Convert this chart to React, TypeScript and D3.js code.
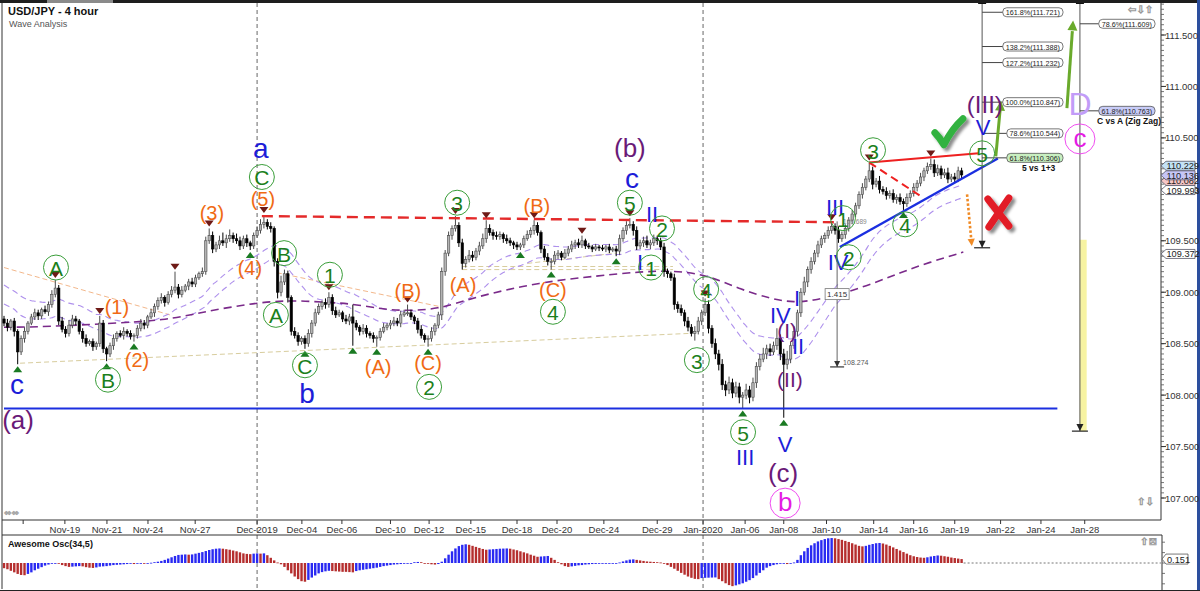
import React from "react";
import * as d3 from "d3";

// ---------------- DATA ----------------
const firstOpen = 108.74;
const closes = [
  108.70, 108.66, 108.72, 108.62, 108.42, 108.55, 108.62, 108.70, 108.76, 108.80,
  108.77, 108.83, 108.81, 108.88, 108.98, 109.04, 108.72, 108.64, 108.60, 108.68,
  108.74, 108.72, 108.62, 108.55, 108.50, 108.52, 108.47, 108.50, 108.70, 108.45,
  108.40, 108.48, 108.55, 108.60, 108.58, 108.62, 108.60, 108.57, 108.58, 108.65,
  108.70, 108.68, 108.76, 108.80, 108.86, 108.92, 108.95, 108.90, 108.98, 109.02,
  109.05, 108.98, 109.02, 109.06, 109.10, 109.08, 109.14, 109.18, 109.20, 109.50,
  109.55, 109.42, 109.46, 109.50, 109.48, 109.52, 109.55, 109.52, 109.50, 109.45,
  109.52, 109.48, 109.45, 109.55, 109.60, 109.66, 109.68, 109.64, 109.62, 109.30,
  109.00, 109.10, 109.18, 108.95, 108.62, 108.58, 108.52, 108.55, 108.50, 108.60,
  108.70, 108.80, 108.86, 108.90, 108.88, 108.95, 108.82, 108.78, 108.80, 108.74,
  108.72, 108.76, 108.70, 108.66, 108.62, 108.65, 108.60, 108.58, 108.55, 108.56,
  108.62, 108.66, 108.68, 108.70, 108.72, 108.70, 108.78, 108.80, 108.80, 108.76,
  108.72, 108.64, 108.58, 108.54, 108.55, 108.62, 108.68, 108.78, 109.20, 109.38,
  109.55, 109.62, 109.65, 109.48, 109.28, 109.32, 109.36, 109.34, 109.40, 109.45,
  109.52, 109.62, 109.58, 109.55, 109.54, 109.56, 109.52, 109.50, 109.48, 109.46,
  109.44, 109.46, 109.52, 109.56, 109.60, 109.65, 109.58, 109.42, 109.34, 109.30,
  109.30, 109.36, 109.38, 109.34, 109.38, 109.42, 109.46, 109.48, 109.46, 109.50,
  109.45, 109.44, 109.42, 109.44, 109.43, 109.42, 109.44, 109.41, 109.42, 109.40,
  109.52, 109.60, 109.65, 109.66, 109.60, 109.45, 109.48, 109.50, 109.46, 109.48,
  109.52, 109.50, 109.44, 109.20, 109.18, 109.14, 108.88, 108.84, 108.80, 108.72,
  108.66, 108.60, 108.62, 108.72, 108.80, 108.88, 108.65, 108.50, 108.40, 108.30,
  108.10, 108.05, 108.12, 108.02, 108.08, 107.98, 108.00, 108.05, 107.98, 108.12,
  108.28, 108.35, 108.40, 108.45, 108.42, 108.48, 108.55, 108.40, 108.30, 108.35,
  108.48, 108.62, 108.80, 109.00, 109.10, 109.22, 109.30, 109.38, 109.46, 109.52,
  109.55, 109.60, 109.64, 109.60, 109.52, 109.56, 109.62, 109.70, 109.76, 109.84,
  109.95, 110.02, 110.10, 110.18, 110.05, 110.08, 110.00, 109.98, 109.94, 109.96,
  109.90, 109.92, 109.88, 109.86, 109.92, 109.96, 110.02, 110.06, 110.12, 110.18,
  110.22, 110.24, 110.16, 110.20, 110.14, 110.16, 110.10, 110.12, 110.10, 110.18, 110.14,
];
// upper / lower wick lengths, in hundredths of a yen
const wickUp = [
  3,4,2,3,2,3,4,2,3,4, 3,2,4,3,4,8,3,4,3,5, 4,3,2,3,4,2,3,2,7,3, 2,3,4,2,3,4,2,3,2,3,
  4,3,2,4,3,3,4,2,3,4, 15,3,4,2,3,4,3,2,4,4, 7,4,3,5,8,4,6,3,5,4, 3,4,2,3,4,5,7,3,4,2,
  3,6,4,3,2,4,3,2,3,4, 3,4,3,2,4,5,3,4,3,2, 4,3,12,3,2,4,3,2,3,2, 3,4,2,3,4,3,4,3,8,3,
  2,3,4,2,3,4,2,3,4,3, 4,3,9,3,4,3,5,4,3,4, 5,8,4,3,4,3,2,4,3,2, 3,2,3,4,3,5,3,2,3,4,
  3,4,3,2,4,3,4,3,4,5, 2,3,2,3,2,3,2,3,2,3, 4,3,4,6,3,4,3,4,5,3, 4,3,3,4,3,2,4,3,4,3,
  4,3,5,4,3,6,4,3,5,4, 5,4,6,4,5,4,3,6,4,5, 4,5,6,4,5,4,10,4,5,8, 4,5,3,4,5,3,4,3,4,3,
  3,4,4,3,4,3,4,3,4,3, 3,4,3,8,4,3,5,3,4,3, 4,3,4,3,4,3,4,3,4,3, 4,6,5,4,3,4,5,3,4,4,3,
];
const wickDn = [
  3,4,3,5,12,3,4,3,2,3, 4,3,2,4,3,3,4,3,4,3, 3,4,3,4,3,2,4,3,3,4, 7,3,4,3,2,4,3,3,5,3,
  3,4,3,2,4,3,3,4,2,3, 3,4,3,2,4,3,3,2,3,3, 3,4,3,4,3,5,3,4,3,4, 3,4,4,3,2,3,4,3,4,5,
  6,4,3,5,4,3,4,3,5,3, 4,3,2,3,4,3,4,3,2,3, 3,4,22,3,4,3,4,3,4,8, 3,2,3,4,3,3,4,2,3,3,
  3,4,3,3,7,3,4,3,5,4, 3,4,3,4,6,4,3,4,3,4, 3,4,3,4,3,3,4,3,3,4, 3,3,3,2,3,4,3,4,3,4,
  8,3,4,3,2,3,3,4,3,3, 3,2,3,2,3,2,3,3,2,5, 4,3,4,3,5,4,3,4,3,4, 3,4,3,5,4,3,5,4,3,5,
  4,3,7,3,4,3,5,4,5,6, 5,6,4,5,4,6,11,4,6,4, 5,4,3,5,4,3,4,6,52,5, 4,3,5,4,3,5,4,3,4,3,
  4,3,3,4,4,3,4,3,4,3, 3,4,3,3,5,3,4,3,4,3, 3,4,3,6,3,4,3,4,3,4, 3,3,4,3,4,3,4,3,4,3,3,
];
const aoValues = [
  -0.20,-0.24,-0.30,-0.36,-0.42,-0.46,-0.47,-0.42,-0.36,-0.28,
  -0.22,-0.16,-0.10,-0.06,-0.03,-0.01,-0.02,-0.08,-0.12,-0.15,
  -0.14,-0.13,-0.12,-0.13,-0.16,-0.18,-0.19,-0.17,-0.14,-0.13,
  -0.12,-0.10,-0.08,-0.07,-0.06,-0.05,-0.04,-0.03,-0.04,-0.03,
  -0.02,-0.02,-0.01,0.01,0.03,0.05,0.08,0.12,0.17,0.22,
  0.27,0.31,0.32,0.33,0.32,0.33,0.36,0.39,0.42,0.46,
  0.50,0.53,0.55,0.56,0.55,0.53,0.51,0.48,0.45,0.41,
  0.37,0.35,0.34,0.36,0.37,0.36,0.37,0.30,0.20,0.10,
  0.02,-0.05,-0.15,-0.28,-0.40,-0.52,-0.62,-0.70,-0.72,-0.65,
  -0.56,-0.48,-0.40,-0.35,-0.32,-0.30,-0.31,-0.32,-0.33,-0.34,
  -0.34,-0.35,-0.36,-0.31,-0.28,-0.26,-0.24,-0.22,-0.20,-0.18,
  -0.15,-0.12,-0.10,-0.08,-0.06,-0.05,-0.04,-0.03,-0.02,0.00,
  0.03,0.04,0.03,0.00,-0.03,-0.05,-0.06,-0.04,0.05,0.18,
  0.32,0.45,0.56,0.65,0.70,0.72,0.70,0.66,0.62,0.58,
  0.54,0.51,0.52,0.53,0.54,0.55,0.555,0.56,0.55,0.52,
  0.49,0.45,0.41,0.37,0.32,0.28,0.24,0.25,0.26,0.27,
  0.20,0.12,0.03,-0.05,-0.12,-0.15,-0.13,-0.11,-0.09,-0.08,
  -0.06,-0.05,-0.04,-0.035,-0.03,-0.028,-0.025,-0.02,-0.015,-0.01,
  0.02,0.06,0.10,0.13,0.14,0.12,0.10,0.08,0.06,0.05,
  0.04,0.03,0.02,-0.02,-0.08,-0.15,-0.22,-0.30,-0.38,-0.45,
  -0.52,-0.57,-0.61,-0.62,-0.58,-0.57,-0.565,-0.56,-0.555,-0.62,
  -0.70,-0.78,-0.85,-0.89,-0.86,-0.82,-0.78,-0.72,-0.66,-0.58,
  -0.48,-0.38,-0.28,-0.18,-0.12,-0.08,-0.05,-0.03,-0.02,-0.04,
  -0.03,0.02,0.12,0.30,0.45,0.58,0.68,0.76,0.83,0.88,
  0.92,0.95,0.96,0.95,0.92,0.89,0.85,0.81,0.76,0.71,
  0.66,0.64,0.66,0.70,0.73,0.76,0.77,0.75,0.71,0.66,
  0.60,0.54,0.48,0.42,0.36,0.30,0.26,0.23,0.21,0.20,
  0.22,0.25,0.27,0.29,0.28,0.26,0.24,0.21,0.19,0.17,0.151,
];
const dateLabels = ["", "Nov-19", "Nov-21", "Nov-24", "Nov-27", "Dec-2019", "Dec-04", "Dec-06", "Dec-10", "Dec-12", "Dec-15", "Dec-18", "Dec-20", "Dec-24", "Dec-29", "Jan-2020", "Jan-06", "Jan-08", "Jan-10", "Jan-14", "Jan-16", "Jan-19", "Jan-22", "Jan-24", "Jan-28"];
const dateBars = [5.6, 17.8, 30.1, 42.1, 55.9, 74, 87.1, 98.8, 113, 124.3, 136.5, 150, 161.7, 175.4, 191, 204.4, 216.7, 228, 240.5, 254.3, 266, 278, 291.4, 303.2, 316];
const separatorLabels = ["Dec-2019", "Jan-2020"];
const priceTicks = [107.0, 107.5, 108.0, 108.5, 109.0, 109.5, 110.0, 110.5, 111.0, 111.5];
const bandSeeds = [109.09, 108.90];
const bandPeriod = 30;
// slow purple moving average, read at bar / price points
const slowMA = [[0,108.66],[8.5,108.66],[28,108.69],[48,108.73],[57,108.80],[67,108.86],[77,108.91],[86,108.92],[95,108.90],[101,108.89],[110,108.84],[116,108.82],[127,108.83],[137,108.95],[157,109.10],[174,109.16],[186,109.20],[196,109.21],[205.5,109.17],[215,109.03],[225,108.93],[231,108.90],[236.5,108.92],[243.5,108.97],[253,109.07],[262,109.19],[270.5,109.29],[280.5,109.39]];
const peachLines = [[0,109.24,48.5,108.78],[79.8,109.19,127.5,108.86]];
const beigeLines = [[4.7,108.31,200.6,108.60],[134,109.25,195.6,109.25],[134,109.22,195.6,109.22],[153,109.28,179,109.38]];
const supportLine = [0, 308, 107.87];
const resistanceLine = [75.4, 109.74, 243.9, 109.68];
const redSolid = [253, 110.26, 285, 110.35];
const redDashed = [253, 110.26, 268.7, 109.92];
const blueTrend = [244.4, 109.44, 290.6, 110.30];
const greenArrows = [[290, 110.32, 291.5, 110.86], [310.8, 110.79, 312.6, 111.64]];
const orangeArrow = [281.6, 109.95, 283, 109.45];
const measureLine = { bar: 243.6, from: 109.689, to: 108.274 };
const fibA = { bar: 286, base: 109.432, pct: ["61.8%", "78.6%", "100.0%", "127.2%", "138.2%", "161.8%"], price: [110.306, 110.544, 110.847, 111.232, 111.388, 111.721], title: "5 vs 1+3" };
const fibB = { bar: 314.6, base: 107.65, pct: ["61.8%", "78.6%"], price: [110.763, 111.609], title: "C vs A (Zig Zag)" };
const yellowBand = [315.4, 107.65, 109.51];
const topMarks = [15, 28, 50, 60, 76, 95, 118, 132, 141, 155, 169, 183, 205, 242, 253, 271];
const bottomMarks = [4, 30, 38, 72, 88, 102, 109, 124, 151, 160, 179, 216, 228, 263];
const axisTags = [
  { v: 110.229, fill: "#c4e2f6" },
  { v: 110.082, fill: "#f6c6c6" },
  { v: 110.136, fill: "#c6c6f6" },
  { v: 109.993, fill: "#ffffff" },
  { v: 109.372, fill: "#ffffff" },
];
// wave labels: [text, bar, price]
const greenCircles = [["A",15.2,109.24],["B",30.4,108.15],["C",75.4,110.12],["B",81.9,109.38],["A",79.5,108.78],["C",88,108.29],["1",95.3,109.17],["2",124.3,108.08],["3",132.5,109.87],["4",160.5,108.81],["5",183,109.87],["2",192.4,109.62],["1",189.2,109.24],["4",205.3,109.03],["3",202.6,108.34],["5",216.1,107.64],["1",245.3,109.72],["2",247,109.34],["3",254.1,110.38],["4",263.5,109.66],["5",286,110.35]];
const orangeLabels = [["(1)",33,108.86],["(2)",38.9,108.34],["(3)",60.8,109.77],["(4)",71.9,109.24],["(5)",75.7,109.91],["(A)",109.4,108.27],["(B)",118.1,109.01],["(C)",124,108.31],["(A)",134.2,109.07],["(B)",155.8,109.84],["(C)",160.5,109.02]];
const blueLetters = [["c",3.8,108.10],["a",75.1,110.40],["b",88.6,108.02],["c",183.6,110.11]];
const purpleLetters = [["(a)",4.1,107.76],["(b)",183,110.40],["(c)",227.8,107.24],["(III)",286.8,110.82]];
const purpleSmall = [["(I)",229,108.63],["(II)",229.8,108.15]];
const blueRomans = [["II",189.5,109.76],["I",186,109.29],["III",216.7,107.39],["V",228.4,107.52],["IV",227,108.77],["I",231.9,108.94],["II",232.2,108.47],["III",243,109.82],["IV",243.9,109.29],["V",286.3,110.60]];
const pinkCircles = [["b",228.4,106.95],["c",314.6,110.49]];
const lavenderLetters = [["D",314.6,110.83]];
const checkAnchor = [275.7, 110.56];
const crossAnchor = [290.6, 109.77];

// ---------------- CHART ----------------
const FONT = "'Liberation Sans', Arial, sans-serif";
const PL = 2, PR = 1161, PT = 3, PB = 520;
const AOT = 535, AOB = 589;

// approximate text width for the small label boxes (Liberation Sans metrics)
const textWidth = (s: string, size: number) => {
  let w = 0;
  for (const ch of s) {
    if (/[0-9]/.test(ch)) w += 0.556;
    else if (ch === ".") w += 0.278;
    else if (ch === "%") w += 0.889;
    else if (ch === "(" || ch === ")") w += 0.333;
    else w += 0.5;
  }
  return w * size;
};

export default function App() {
  const x = d3.scaleLinear().domain([0, 280]).range([4, 961.6]);
  const y = d3.scaleLinear().domain([107, 111.5]).range([498, 35]);
  const yAO = d3.scaleLinear().domain([-1, 1]).range([589, 537]);

  const bars = closes.map((c, i) => {
    const o = i === 0 ? firstOpen : closes[i - 1];
    return { i, o, c, hi: Math.max(o, c) + wickUp[i] / 100, lo: Math.min(o, c) - wickDn[i] / 100 };
  });
  const ema = (vals: number[], seed: number) => {
    const k = 2 / (bandPeriod + 1);
    let e = seed;
    return vals.map((v) => (e = e + k * (v - e)));
  };
  const upperBand = ema(bars.map((b) => b.hi), bandSeeds[0]);
  const lowerBand = ema(bars.map((b) => b.lo), bandSeeds[1]);
  const bandLine = d3.line<number>().x((_, i) => x(i)).y((v) => y(v)).curve(d3.curveMonotoneX);
  const maLine = d3.line<number[]>().x((d) => x(d[0])).y((d) => y(d[1])).curve(d3.curveBasis);

  const minorTicks = d3.range(107.0, 111.81, 0.05);
  const fmt = d3.format(".3f");

  const seg = (a: number[], key: string, props: any) => (
    <line key={key} x1={x(a[0])} y1={y(a[1])} x2={x(a[2])} y2={y(a[3])} {...props} />
  );

  const fibBlock = (f: any, right: number, key: string, titleX: number, greenIdx: number, blueIdx: number) => {
    const vx = x(f.bar);
    return (
      <g key={key}>
        <line x1={vx} y1={PT} x2={vx} y2={y(f.base)} stroke="#555" strokeWidth={1} />
        <rect x={vx - 4} y={0} width={8} height={4} fill="#111" />
        <line x1={vx - 8} y1={y(f.base)} x2={vx + 8} y2={y(f.base)} stroke="#222" strokeWidth={1.2} />
        <path d={`M${vx - 3.5},${y(f.base) - 7} L${vx + 3.5},${y(f.base) - 7} L${vx},${y(f.base)} Z`} fill="#222" />
        {f.price.map((p: number, j: number) => {
          const txt = `${f.pct[j]}(${p.toFixed(3)})`;
          const w = textWidth(txt, 7.2) + 5;
          const yy = y(p);
          const fill = j === greenIdx ? "#c8efc0" : j === blueIdx ? "#c8ccf8" : "#fff";
          return (
            <g key={j}>
              <line x1={vx} y1={yy} x2={right - w} y2={yy} stroke="#444" strokeWidth={1} />
              <rect x={right - w} y={yy - 4.5} width={w} height={9} rx={4} fill={fill} stroke="#555" strokeWidth={0.8} />
              <text x={right - w / 2} y={yy + 0.5} fontSize={7.2} fontFamily={FONT} textAnchor="middle" dominantBaseline="central" fill="#222">{txt}</text>
            </g>
          );
        })}
        <text x={titleX} y={y(f.price[greenIdx >= 0 ? greenIdx : blueIdx]) + 13} fontSize={8.5} fontWeight="bold" fontFamily={FONT} fill="#111">{f.title}</text>
      </g>
    );
  };

  const arrowHead = (x1: number, y1: number, x2: number, y2: number, size: number) => {
    const ang = Math.atan2(y2 - y1, x2 - x1);
    const a1 = ang + Math.PI * 0.85, a2 = ang - Math.PI * 0.85;
    return `M${x2},${y2} L${x2 + size * Math.cos(a1)},${y2 + size * Math.sin(a1)} L${x2 + size * Math.cos(a2)},${y2 + size * Math.sin(a2)} Z`;
  };

  const sepX = separatorLabels.map((l) => x(dateBars[dateLabels.indexOf(l)]));
  const [cx, cy] = [x(checkAnchor[0]), y(checkAnchor[1])];
  const [rx, ry] = [x(crossAnchor[0]), y(crossAnchor[1])];

  return (
    <svg width={1200} height={591} viewBox="0 0 1200 591" style={{ position: "absolute", left: 0, top: 0, background: "#fff" }} fontFamily={FONT}>
      <defs>
        <clipPath id="plot"><rect x={PL} y={PT} width={PR - PL} height={PB - PT} /></clipPath>
        <filter id="shadow" x="-50%" y="-50%" width="200%" height="200%">
          <feDropShadow dx="3" dy="3" stdDeviation="1.8" floodColor="#000" floodOpacity="0.45" />
        </filter>
      </defs>
      <rect x={0} y={0} width={1200} height={591} fill="#fff" />
      {/* top strip */}
      <rect x={0} y={0} width={1200} height={3} fill="#1e1e1e" />
      <rect x={47} y={0} width={66} height={3} fill="#8a8a8a" />
      <rect x={1197} y={0} width={3} height={591} fill="#2c4f9e" />

      {/* separators */}
      {sepX.map((sx, k) => (
        <line key={k} x1={sx} y1={PT} x2={sx} y2={AOB} stroke="#666" strokeDasharray="4 3" strokeWidth={1} />
      ))}

      <g clipPath="url(#plot)">
        {/* peach & beige helper lines */}
        {peachLines.map((l, k) => seg(l, "p" + k, { stroke: "#f3b88c", strokeWidth: 1, strokeDasharray: "5 3" }))}
        {beigeLines.map((l, k) => seg(l, "b" + k, { stroke: "#d8cd9e", strokeWidth: 1, strokeDasharray: "5 3" }))}
        {/* bands */}
        <path d={bandLine(upperBand) || ""} fill="none" stroke="#ae90ec" strokeWidth={1.1} strokeDasharray="6 4" />
        <path d={bandLine(lowerBand) || ""} fill="none" stroke="#ae90ec" strokeWidth={1.1} strokeDasharray="6 4" />
        <path d={maLine(slowMA) || ""} fill="none" stroke="#7a2a8a" strokeWidth={1.6} strokeDasharray="8 5" />

        {/* candles */}
        {bars.map((b) => {
          const cxp = x(b.i);
          const up = b.c >= b.o;
          const top = y(Math.max(b.o, b.c));
          const h = Math.max(1, y(Math.min(b.o, b.c)) - top);
          return (
            <g key={b.i}>
              <line x1={cxp} y1={y(b.hi)} x2={cxp} y2={y(b.lo)} stroke={up ? "#4a4a4a" : "#000"} strokeWidth={1} />
              <rect x={cxp - 1.2} y={top} width={2.4} height={h} fill={up ? "#b4b4b4" : "#000"} stroke={up ? "#4a4a4a" : "#000"} strokeWidth={0.6} />
            </g>
          );
        })}

        {/* support / resistance */}
        <line x1={x(supportLine[0])} y1={y(supportLine[2])} x2={x(supportLine[1])} y2={y(supportLine[2])} stroke="#1b2fe0" strokeWidth={2.2} />
        {seg(resistanceLine, "res", { stroke: "#e42a2a", strokeWidth: 2.4, strokeDasharray: "11 6" })}
        {seg(redSolid, "rs", { stroke: "#ee2020", strokeWidth: 2 })}
        {seg(redDashed, "rd", { stroke: "#ee2020", strokeWidth: 2, strokeDasharray: "8 5" })}
        {seg(blueTrend, "bt", { stroke: "#1b2fe0", strokeWidth: 2.4 })}

        {/* markers */}
        {topMarks.map((i) => {
          const px = x(i), py = y(bars[i].hi) - 2;
          return <path key={"t" + i} d={`M${px - 4.5},${py - 6} L${px + 4.5},${py - 6} L${px},${py} Z`} fill="#6e1a16" />;
        })}
        {bottomMarks.map((i) => {
          const px = x(i), py = y(bars[i].lo) + 2;
          return <path key={"m" + i} d={`M${px - 4.5},${py + 6} L${px + 4.5},${py + 6} L${px},${py} Z`} fill="#1a7a22" />;
        })}

        {/* measurement */}
        <line x1={x(measureLine.bar)} y1={y(measureLine.from)} x2={x(measureLine.bar)} y2={y(measureLine.to)} stroke="#666" strokeWidth={1} />
        <line x1={x(measureLine.bar) - 7} y1={y(measureLine.to)} x2={x(measureLine.bar) + 7} y2={y(measureLine.to)} stroke="#333" strokeWidth={1.2} />
        <path d={`M${x(measureLine.bar) - 3},${y(measureLine.to) - 6} L${x(measureLine.bar) + 3},${y(measureLine.to) - 6} L${x(measureLine.bar)},${y(measureLine.to)} Z`} fill="#333" />
        <rect x={x(measureLine.bar) - 12} y={y((measureLine.from + measureLine.to) / 2) - 5.5} width={24} height={11} fill="#fff" stroke="#777" strokeWidth={0.8} />
        <text x={x(measureLine.bar)} y={y((measureLine.from + measureLine.to) / 2) + 0.5} fontSize={8} textAnchor="middle" dominantBaseline="central" fill="#333">{(measureLine.from - measureLine.to).toFixed(3)}</text>
        <text x={x(measureLine.bar) + 6} y={y(measureLine.from) + 3} fontSize={6.5} fill="#888">{measureLine.from.toFixed(3)}</text>
        <text x={x(measureLine.bar) + 6} y={y(measureLine.to) - 2} fontSize={7} fill="#555">{measureLine.to.toFixed(3)}</text>

        {/* yellow projection band */}
        <rect x={x(yellowBand[0]) - 3} y={y(yellowBand[2])} width={7} height={y(yellowBand[1]) - y(yellowBand[2])} fill="#f7f3a2" />

        {/* fibonacci tools */}
        {fibBlock(fibA, 1063, "fa", 1022, 0, -1)}
        {fibBlock(fibB, 1155, "fb", 1097, -1, 0)}

        {/* arrows */}
        {greenArrows.map((a, k) => {
          const x1 = x(a[0]), y1 = y(a[1]), x2 = x(a[2]), y2 = y(a[3]);
          return (
            <g key={"ga" + k}>
              <line x1={x1} y1={y1} x2={x2 + (x1 - x2) * 0.12} y2={y2 + (y1 - y2) * 0.12} stroke="#6aaa2c" strokeWidth={3} />
              <path d={arrowHead(x1, y1, x2, y2, 11)} fill="#6aaa2c" />
            </g>
          );
        })}
        {(() => {
          const x1 = x(orangeArrow[0]), y1 = y(orangeArrow[1]), x2 = x(orangeArrow[2]), y2 = y(orangeArrow[3]);
          return (
            <g>
              <line x1={x1} y1={y1} x2={x2 - (x2 - x1) * 0.15} y2={y2 - (y2 - y1) * 0.15} stroke="#f08a24" strokeWidth={2.6} strokeDasharray="2.5 2" />
              <path d={arrowHead(x1, y1, x2, y2, 8)} fill="#f08a24" />
            </g>
          );
        })()}

        {/* wave labels */}
        {blueLetters.map((l: any, k) => (
          <text key={"bl" + k} x={x(l[1])} y={y(l[2])} fontSize={28} fill="#1d1dd8" textAnchor="middle" dominantBaseline="central">{l[0]}</text>
        ))}
        {purpleLetters.map((l: any, k) => (
          <text key={"pl" + k} x={x(l[1])} y={y(l[2])} fontSize={l[0] === "(III)" ? 24 : 26} fill="#6a1a78" textAnchor="middle" dominantBaseline="central">{l[0]}</text>
        ))}
        {purpleSmall.map((l: any, k) => (
          <text key={"ps" + k} x={x(l[1])} y={y(l[2])} fontSize={21} fill="#6a1a78" textAnchor="middle" dominantBaseline="central">{l[0]}</text>
        ))}
        {blueRomans.map((l: any, k) => (
          <text key={"br" + k} x={x(l[1])} y={y(l[2])} fontSize={22} fill="#1d1dd8" textAnchor="middle" dominantBaseline="central">{l[0]}</text>
        ))}
        {orangeLabels.map((l: any, k) => (
          <text key={"ol" + k} x={x(l[1])} y={y(l[2])} fontSize={20} fill="#f06a14" textAnchor="middle" dominantBaseline="central">{l[0]}</text>
        ))}
        {greenCircles.map((l: any, k) => (
          <g key={"gc" + k}>
            <circle cx={x(l[1])} cy={y(l[2])} r={12.5} fill="none" stroke="#3a9e3a" strokeWidth={1} />
            <text x={x(l[1])} y={y(l[2]) + 1} fontSize={21} fill="#1c7f1c" textAnchor="middle" dominantBaseline="central">{l[0]}</text>
          </g>
        ))}
        {pinkCircles.map((l: any, k) => (
          <g key={"pc" + k}>
            <circle cx={x(l[1])} cy={y(l[2])} r={15} fill="none" stroke="#f04cf0" strokeWidth={1} />
            <text x={x(l[1])} y={y(l[2]) - 1} fontSize={26} fill="#e41ce4" textAnchor="middle" dominantBaseline="central">{l[0]}</text>
          </g>
        ))}
        {lavenderLetters.map((l: any, k) => (
          <text key={"lv" + k} x={x(l[1])} y={y(l[2])} fontSize={32} fill="#c29cf8" textAnchor="middle" dominantBaseline="central">{l[0]}</text>
        ))}

        {/* check and cross */}
        <g filter="url(#shadow)">
          <path d={`M${cx - 12},${cy + 1} Q${cx - 7},${cy + 6} ${cx - 3},${cy + 13} Q${cx + 5},${cy - 3} ${cx + 16},${cy - 13}`} fill="none" stroke="#33b23f" strokeWidth={7} strokeLinecap="round" strokeLinejoin="round" />
        </g>
        <g filter="url(#shadow)">
          <path d={`M${rx - 10},${ry - 14} L${rx + 11},${ry + 13} M${rx + 11},${ry - 15} L${rx - 9},${ry + 14}`} fill="none" stroke="#e21b25" strokeWidth={7} strokeLinecap="round" />
        </g>
      </g>

      {/* frame */}
      <line x1={PL} y1={PT} x2={PL} y2={AOB} stroke="#333" strokeWidth={1} />
      <line x1={PR} y1={PT} x2={PR} y2={PB} stroke="#333" strokeWidth={1} />
      <line x1={PL} y1={PB} x2={PR} y2={PB} stroke="#333" strokeWidth={1} />

      {/* title */}
      <text x={8} y={15} fontSize={11} fontWeight="bold" fill="#111">USD/JPY - 4 hour</text>
      <text x={9} y={27} fontSize={9} fill="#555">Wave Analysis</text>

      {/* icons */}
      <text x={1128} y={13} fontSize={10} fill="#fff" stroke="#999" strokeWidth={0.6} fontFamily="DejaVu Sans">⇦⇩⇧</text>
      <text x={1137} y={505} fontSize={10} fill="#fff" stroke="#999" strokeWidth={0.6} fontFamily="DejaVu Sans">⇧⇩</text>
      <text x={4} y={516} fontSize={9} fill="#fff" stroke="#999" strokeWidth={0.6} fontFamily="DejaVu Sans">⇔⇔</text>
      <text x={1140} y={545} fontSize={10} fill="#fff" stroke="#999" strokeWidth={0.6} fontFamily="DejaVu Sans">⇧⊠</text>

      {/* price axis */}
      {minorTicks.map((p, k) => (
        <line key={"mt" + k} x1={PR} y1={y(p)} x2={PR + 3} y2={y(p)} stroke="#555" strokeWidth={0.8} />
      ))}
      {priceTicks.map((p) => (
        <g key={"pt" + p}>
          <line x1={PR} y1={y(p)} x2={PR + 5} y2={y(p)} stroke="#333" strokeWidth={1} />
          <text x={PR + 4} y={y(p)} fontSize={9.5} fill="#333" dominantBaseline="central">{fmt(p)}</text>
        </g>
      ))}
      {axisTags.map((t) => {
        const yy = y(t.v);
        return (
          <g key={"tag" + t.v}>
            <path d={`M${PR},${yy} L${PR + 5},${yy - 4.5} L${1195},${yy - 4.5} L${1195},${yy + 4.5} L${PR + 5},${yy + 4.5} Z`} fill={t.fill} stroke="#556" strokeWidth={0.8} />
            <text x={PR + 5.5} y={yy + 0.5} fontSize={9.2} fill="#222" dominantBaseline="central">{fmt(t.v)}</text>
          </g>
        );
      })}

      {/* date axis */}
      {dateBars.map((b, k) => (
        <g key={"d" + k}>
          <line x1={x(b)} y1={PB} x2={x(b)} y2={PB + 4} stroke="#333" strokeWidth={1} />
          <text x={x(b)} y={529} fontSize={9.5} fill="#333" textAnchor="middle" dominantBaseline="central">{dateLabels[k]}</text>
        </g>
      ))}

      {/* AO panel */}
      <line x1={PL} y1={AOT} x2={PR + 1} y2={AOT} stroke="#333" strokeWidth={1} />
      <line x1={PR + 1} y1={AOT} x2={PR + 1} y2={AOB + 2} stroke="#333" strokeWidth={1} />
      <text x={8} y={547} fontSize={9} fontWeight="bold" fill="#111">Awesome Osc(34,5)</text>
      {aoValues.map((v, i) => {
        const prev = i === 0 ? v : aoValues[i - 1];
        const col = v > prev ? "#2a2af2" : "#b52e2e";
        const y0 = yAO(Math.max(v, 0)), y1 = yAO(Math.min(v, 0));
        return <rect key={"ao" + i} x={x(i) - 1.2} y={y0} width={2.4} height={Math.max(0.8, y1 - y0)} fill={col} />;
      })}
      <line x1={x(aoValues.length - 1) + 2} y1={yAO(0)} x2={PR} y2={yAO(0)} stroke="#777" strokeDasharray="2 2" strokeWidth={1} />
      {[-0.8, -0.4, 0, 0.4, 0.8].map((v) => (
        <line key={"aot" + v} x1={PR + 1} y1={yAO(v)} x2={PR + 4} y2={yAO(v)} stroke="#555" strokeWidth={0.8} />
      ))}
      {(() => {
        const v = aoValues[aoValues.length - 1];
        const yy = yAO(v);
        return (
          <g>
            <path d={`M${PR + 1},${yy} L${PR + 5},${yy - 5} L${1188},${yy - 5} L${1188},${yy + 5} L${PR + 5},${yy + 5} Z`} fill="#fff" stroke="#555" strokeWidth={0.8} />
            <text x={PR + 6} y={yy + 0.5} fontSize={9.2} fill="#222" dominantBaseline="central">{v.toFixed(3)}</text>
          </g>
        );
      })()}
      <rect x={0} y={AOB + 1} width={1200} height={2} fill="#222" />
    </svg>
  );
}
